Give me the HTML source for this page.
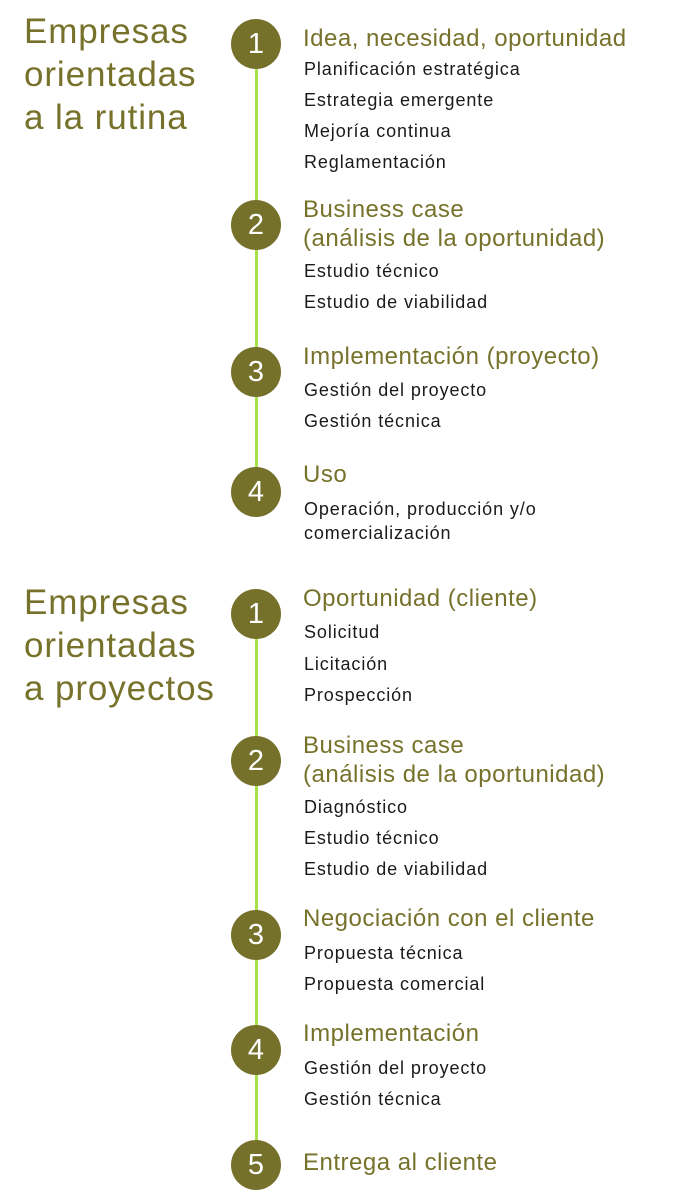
<!DOCTYPE html>
<html><head><meta charset="utf-8"><style>
body{margin:0;width:683px;height:1201px;background:#fff;position:relative;font-family:"Liberation Sans",sans-serif;overflow:hidden}
.t{position:absolute;left:24px;font-size:35px;line-height:43px;color:#77722b;letter-spacing:0.9px}
.c{position:absolute;width:50px;height:50px;border-radius:50%;background:#76712a;color:#fff;font-size:29px;line-height:50px;text-align:center;left:231px}
.l{position:absolute;left:255px;width:3px;background:#a6e04a}
.h{position:absolute;left:303px;font-size:24px;line-height:29px;color:#77722b;white-space:nowrap;letter-spacing:0.5px}
.i{position:absolute;left:304px;font-size:18px;line-height:24px;color:#1a1a1a;white-space:nowrap;letter-spacing:0.9px}
</style></head><body>
<div class="t" style="top:10px">Empresas<br>orientadas<br>a la rutina</div>
<div class="t" style="top:581px">Empresas<br>orientadas<br>a proyectos</div>
<div class="l" style="top:44px;height:448px"></div>
<div class="l" style="top:614px;height:551px"></div>
<div class="c" style="top:19px">1</div>
<div class="c" style="top:200px">2</div>
<div class="c" style="top:347px">3</div>
<div class="c" style="top:467px">4</div>
<div class="c" style="top:589px">1</div>
<div class="c" style="top:736px">2</div>
<div class="c" style="top:910px">3</div>
<div class="c" style="top:1025px">4</div>
<div class="c" style="top:1140px">5</div>

<div class="h" style="top:24px">Idea, necesidad, oportunidad</div>
<div class="i" style="top:57px">Planificación estratégica</div>
<div class="i" style="top:88px">Estrategia emergente</div>
<div class="i" style="top:119px">Mejoría continua</div>
<div class="i" style="top:150px">Reglamentación</div>
<div class="h" style="top:195px">Business case<br>(análisis de la oportunidad)</div>
<div class="i" style="top:259px">Estudio técnico</div>
<div class="i" style="top:290px">Estudio de viabilidad</div>
<div class="h" style="top:342px">Implementación (proyecto)</div>
<div class="i" style="top:378px">Gestión del proyecto</div>
<div class="i" style="top:409px">Gestión técnica</div>
<div class="h" style="top:460px">Uso</div>
<div class="i" style="top:497px">Operación, producción y/o</div>
<div class="i" style="top:521px">comercialización</div>

<div class="h" style="top:584px">Oportunidad (cliente)</div>
<div class="i" style="top:620px">Solicitud</div>
<div class="i" style="top:652px">Licitación</div>
<div class="i" style="top:683px">Prospección</div>
<div class="h" style="top:731px">Business case<br>(análisis de la oportunidad)</div>
<div class="i" style="top:795px">Diagnóstico</div>
<div class="i" style="top:826px">Estudio técnico</div>
<div class="i" style="top:857px">Estudio de viabilidad</div>
<div class="h" style="top:904px">Negociación con el cliente</div>
<div class="i" style="top:941px">Propuesta técnica</div>
<div class="i" style="top:972px">Propuesta comercial</div>
<div class="h" style="top:1019px">Implementación</div>
<div class="i" style="top:1056px">Gestión del proyecto</div>
<div class="i" style="top:1087px">Gestión técnica</div>
<div class="h" style="top:1148px">Entrega al cliente</div>
</body></html>
